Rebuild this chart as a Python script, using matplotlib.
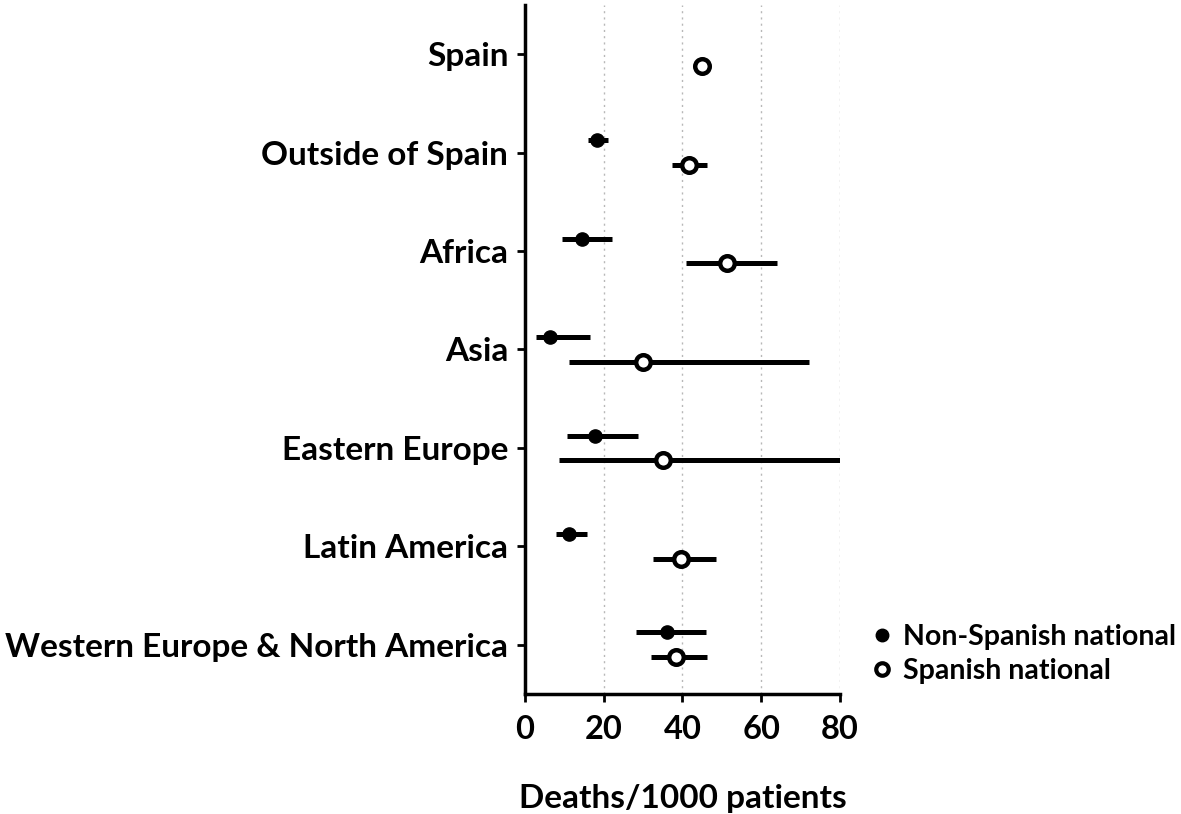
import matplotlib
matplotlib.use('Agg')
import matplotlib.pyplot as plt
from matplotlib.lines import Line2D

plt.rcParams['font.family'] = ['Lato', 'DejaVu Sans']
plt.rcParams['font.weight'] = 'bold'

# 数据：每个地区的死亡率 (每1000名患者) 及置信区间
regions = ['Spain', 'Outside of Spain', 'Africa', 'Asia', 'Eastern Europe',
           'Latin America', 'Western Europe & North America']

# 非西班牙国籍 (Spain 无数据)
non_sp_rate = [None, 18.2, 14.4, 6.3, 17.8, 11.2, 36.1]
non_sp_low = [None, 16.0, 9.3, 2.7, 10.7, 7.9, 28.3]
non_sp_high = [None, 21.0, 22.0, 16.5, 28.6, 15.8, 45.9]

# 西班牙国籍
sp_rate = [44.9, 41.6, 51.2, 29.9, 35.1, 39.6, 38.3]
sp_low = [44.9, 37.3, 41.0, 11.2, 8.7, 32.4, 31.9]
sp_high = [44.9, 46.2, 63.9, 72.2, 80.0, 48.4, 46.1]

xticks = [0, 20, 40, 60, 80]

fig = plt.figure(figsize=(11.81, 8.14), dpi=100)
ax = fig.add_axes([0.4445, 0.1474, 0.2668, 0.8466])

n = len(regions)
ypos = [n - 1 - i for i in range(n)]
off = 0.125

for i in range(n):
    y = ypos[i]
    if non_sp_rate[i] is not None:
        ax.plot([non_sp_low[i], non_sp_high[i]], [y + off, y + off],
                color='black', lw=3.6, solid_capstyle='butt', zorder=3)
        ax.plot(non_sp_rate[i], y + off, 'o', color='black', ms=9.5, zorder=4)
    ax.plot([sp_low[i], sp_high[i]], [y - off, y - off],
            color='black', lw=3.6, solid_capstyle='butt', zorder=3)
    ax.plot(sp_rate[i], y - off, 'o', mfc='white', mec='black', ms=10.5, mew=3.2, zorder=4)

ax.set_xlim(0, 80)
ax.set_ylim(-0.5, n - 0.5)
ax.set_xticks(xticks)
ax.set_yticks(ypos)
ax.set_yticklabels(regions)
ax.tick_params(axis='y', labelsize=24, length=6, width=2, direction='out', pad=6)
ax.tick_params(axis='x', labelsize=23.5, length=6, width=2, direction='out', pad=9)
for lab in ax.get_xticklabels() + ax.get_yticklabels():
    lab.set_fontweight('bold')

for s in ['top', 'right']:
    ax.spines[s].set_visible(False)
for s in ['left', 'bottom']:
    ax.spines[s].set_linewidth(2.5)

for xv in xticks[1:]:
    ax.axvline(xv, color='#b8b8b8', lw=1, ls=(0, (1.5, 3)), zorder=1)

ax.set_xlabel('Deaths/1000 patients', fontsize=24, fontweight='bold', labelpad=29)

handles = [
    Line2D([], [], ls='none', marker='o', color='black', ms=9),
    Line2D([], [], ls='none', marker='o', mfc='white', mec='black', ms=9, mew=3),
]
fig.legend(handles, ['Non-Spanish national', 'Spanish national'],
           loc='center left', bbox_to_anchor=(0.737, 0.197, 0, 0), frameon=False,
           prop={'size': 20.5, 'weight': 'bold'}, handletextpad=0.35,
           labelspacing=0.28, handlelength=0.8, borderaxespad=0, borderpad=0)

fig.savefig('out.png', dpi=100)
